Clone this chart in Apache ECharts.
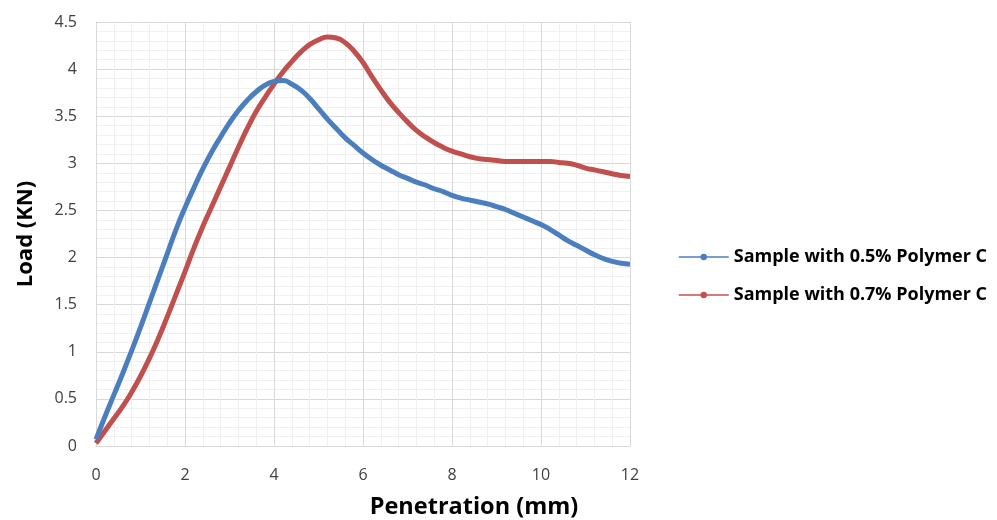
<!DOCTYPE html>
<html>
<head>
<meta charset="utf-8">
<script src="https://cdn.jsdelivr.net/npm/echarts@6/dist/echarts.min.js"></script>
<style>
  html, body { margin: 0; padding: 0; background: #fff; }
  #chart { width: 997px; height: 520px; }
</style>
</head>
<body>
<div id="chart"></div>
<script>
// Penetration (mm) sample points
const penetration = [0, 0.2, 0.4, 0.6, 0.8, 1.0, 1.2, 1.4, 1.6, 1.8, 2.0, 2.2, 2.4, 2.6, 2.8, 3.0,
  3.2, 3.4, 3.6, 3.8, 4.0, 4.2, 4.4, 4.6, 4.8, 5.0, 5.2, 5.4, 5.6, 5.8, 6.0, 6.2, 6.4, 6.6, 6.8,
  7.0, 7.2, 7.4, 7.6, 7.8, 8.0, 8.2, 8.4, 8.6, 8.8, 9.0, 9.2, 9.4, 9.6, 9.8, 10.0, 10.2, 10.4,
  10.6, 10.8, 11.0, 11.2, 11.4, 11.6, 11.8, 12.0];

// Load (KN) – sample with 0.5% Polymer C
const load05 = [0.07, 0.31, 0.54, 0.77, 1.01, 1.26, 1.52, 1.78, 2.04, 2.30, 2.53, 2.74, 2.94, 3.12, 3.28, 3.43,
  3.56, 3.67, 3.76, 3.83, 3.87, 3.88, 3.84, 3.78, 3.69, 3.58, 3.47, 3.37, 3.27, 3.19, 3.11, 3.04, 2.98, 2.93, 2.88,
  2.84, 2.80, 2.77, 2.73, 2.70, 2.66, 2.63, 2.61, 2.59, 2.57, 2.54, 2.51, 2.47, 2.43, 2.39, 2.35, 2.30, 2.24,
  2.18, 2.13, 2.08, 2.03, 1.99, 1.96, 1.94, 1.93];

// Load (KN) – sample with 0.7% Polymer C
const load07 = [0.03, 0.16, 0.29, 0.42, 0.57, 0.74, 0.93, 1.14, 1.37, 1.61, 1.85, 2.10, 2.33, 2.54, 2.75, 2.96,
  3.17, 3.37, 3.55, 3.70, 3.84, 3.97, 4.08, 4.18, 4.26, 4.31, 4.34, 4.33, 4.28, 4.19, 4.07, 3.92, 3.78, 3.65, 3.54,
  3.44, 3.35, 3.28, 3.22, 3.17, 3.13, 3.10, 3.07, 3.05, 3.04, 3.03, 3.02, 3.02, 3.02, 3.02, 3.02, 3.02, 3.01,
  3.00, 2.98, 2.95, 2.93, 2.91, 2.89, 2.87, 2.86];

const seriesNames = ['Sample with 0.5% Polymer C', 'Sample with 0.7% Polymer C'];
const seriesColors = ['#4a7ebf', '#c0504d'];

const pairs = ys => penetration.map((x, i) => [x, ys[i]]);

const chart = echarts.init(document.getElementById('chart'), null, { renderer: 'canvas' });
const font = '"Open Sans", "DejaVu Sans", sans-serif';

chart.setOption({
  animation: false,
  backgroundColor: '#ffffff',
  textStyle: { fontFamily: font },
  grid: { left: 96, right: 367, top: 22, bottom: 74, containLabel: false, outerBoundsMode: 'none' },
  legend: {
    orient: 'vertical',
    left: 673,
    top: 243,
    itemGap: 20,
    itemWidth: 50,
    itemHeight: 8,
    data: seriesNames,
    textStyle: { fontFamily: font, fontWeight: 'bold', fontSize: 18, color: '#000' },
    lineStyle: { width: 1.5 }
  },
  xAxis: {
    type: 'value',
    min: 0, max: 12, interval: 2,
    name: 'Penetration (mm)',
    nameLocation: 'middle',
    nameGap: 49,
    nameTextStyle: { fontFamily: font, fontWeight: 'bold', fontSize: 23.5, color: '#000', padding: [0, 0, 0, 222] },
    axisLine: { show: true, lineStyle: { color: '#d9d9d9', width: 1 } },
    axisTick: { show: false },
    axisLabel: { fontSize: 16, color: '#404040', margin: 21, fontFamily: font },
    splitLine: { show: true, lineStyle: { color: '#d9d9d9', width: 1 } },
    minorTick: { show: false, splitNumber: 5 },
    minorSplitLine: { show: true, lineStyle: { color: '#f0f0f0', width: 1 } }
  },
  yAxis: {
    type: 'value',
    min: 0, max: 4.5, interval: 0.5,
    name: 'Load (KN)',
    nameLocation: 'middle',
    nameGap: 59,
    nameTextStyle: { fontFamily: font, fontWeight: 'bold', fontSize: 22, color: '#000' },
    axisLine: { show: true, lineStyle: { color: '#d9d9d9', width: 1 } },
    axisTick: { show: false },
    axisLabel: { fontSize: 16, color: '#404040', margin: 19, fontFamily: font },
    splitLine: { show: true, lineStyle: { color: '#d9d9d9', width: 1 } },
    minorTick: { show: false, splitNumber: 5 },
    minorSplitLine: { show: true, lineStyle: { color: '#f0f0f0', width: 1 } }
  },
  series: [load05, load07].map((ys, i) => ({
    name: seriesNames[i],
    type: 'line',
    data: pairs(ys),
    smooth: 0.5,
    symbol: 'circle',
    symbolSize: 4,
    showSymbol: false,
    color: seriesColors[i],
    lineStyle: { color: seriesColors[i], width: 5 },
    itemStyle: { color: seriesColors[i] },
    z: i === 0 ? 3 : 2
  }))
});
</script>
</body>
</html>
